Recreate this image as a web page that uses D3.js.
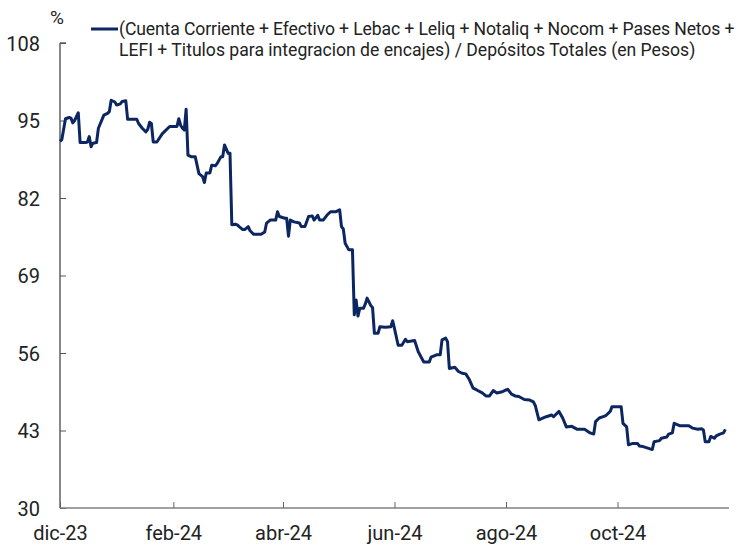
<!DOCTYPE html>
<html><head><meta charset="utf-8">
<script src="https://cdn.jsdelivr.net/npm/d3@7"></script>
<style>body{margin:0;background:#fff}svg{display:block}text{font-family:Roboto,"Noto Sans",sans-serif}</style>
</head><body><svg id="c" width="740" height="546"></svg>
<script>
const dates = ["2023-12-01","2023-12-02","2023-12-04","2023-12-06","2023-12-07","2023-12-08","2023-12-09","2023-12-11","2023-12-12","2023-12-15","2023-12-16","2023-12-17","2023-12-18","2023-12-19","2023-12-21","2023-12-22","2023-12-25","2023-12-27","2023-12-28","2023-12-29","2023-12-31",
"2024-01-01","2024-01-03","2024-01-04","2024-01-06","2024-01-07","2024-01-12","2024-01-13","2024-01-15","2024-01-17","2024-01-18","2024-01-19","2024-01-20","2024-01-21","2024-01-23","2024-01-26","2024-01-27","2024-01-30",
"2024-02-03","2024-02-04","2024-02-05","2024-02-06","2024-02-07","2024-02-08","2024-02-09","2024-02-11","2024-02-13","2024-02-15","2024-02-17","2024-02-18","2024-02-19","2024-02-21","2024-02-22","2024-02-24","2024-02-25","2024-02-27","2024-02-28","2024-02-29",
"2024-03-02","2024-03-03","2024-03-04","2024-03-06","2024-03-07","2024-03-08","2024-03-10","2024-03-11","2024-03-13","2024-03-14","2024-03-16","2024-03-20","2024-03-22","2024-03-23","2024-03-25","2024-03-28","2024-03-29","2024-03-30",
"2024-04-02","2024-04-03","2024-04-04","2024-04-05","2024-04-07","2024-04-10","2024-04-11","2024-04-13","2024-04-15","2024-04-17","2024-04-18","2024-04-20","2024-04-21","2024-04-23","2024-04-25","2024-04-27","2024-04-30",
"2024-05-02","2024-05-03","2024-05-04","2024-05-05","2024-05-07","2024-05-09","2024-05-10","2024-05-11","2024-05-12","2024-05-13","2024-05-15","2024-05-16","2024-05-17","2024-05-18","2024-05-19","2024-05-20","2024-05-21","2024-05-23","2024-05-24","2024-05-27","2024-05-30","2024-05-31",
"2024-06-01","2024-06-03","2024-06-05","2024-06-07","2024-06-08","2024-06-12","2024-06-14","2024-06-17","2024-06-20","2024-06-21","2024-06-24","2024-06-26","2024-06-27","2024-06-29","2024-06-30",
"2024-07-01","2024-07-04","2024-07-06","2024-07-08","2024-07-10","2024-07-12","2024-07-14","2024-07-16","2024-07-19","2024-07-21","2024-07-23","2024-07-25","2024-07-27","2024-07-30",
"2024-08-01","2024-08-02","2024-08-04","2024-08-06","2024-08-08","2024-08-11","2024-08-14","2024-08-16","2024-08-17","2024-08-19","2024-08-22","2024-08-23","2024-08-26","2024-08-27","2024-08-30",
"2024-09-01","2024-09-03","2024-09-06","2024-09-09","2024-09-13","2024-09-16","2024-09-18","2024-09-19","2024-09-21","2024-09-24","2024-09-25","2024-09-27","2024-09-28",
"2024-10-02","2024-10-03","2024-10-04","2024-10-06","2024-10-07","2024-10-09","2024-10-12","2024-10-13","2024-10-15","2024-10-18","2024-10-20","2024-10-21","2024-10-24","2024-10-25","2024-10-28","2024-10-29","2024-10-31",
"2024-11-01","2024-11-04","2024-11-09","2024-11-11","2024-11-14","2024-11-16","2024-11-17","2024-11-18","2024-11-20","2024-11-21","2024-11-23","2024-11-24","2024-11-26","2024-11-28","2024-11-29"];
const values = [91.5,91.8,95.3,95.5,95.4,94.6,95.0,96.3,91.3,91.3,91.4,92.3,90.6,91.2,91.3,93.7,95.9,96.2,96.5,98.4,98.1,
97.6,97.8,98.2,98.3,95.2,95.2,94.5,93.7,93.1,93.5,94.7,94.5,91.4,91.4,92.8,93.1,94.0,
94.0,95.3,94.2,93.7,93.4,96.9,89.2,88.9,88.9,86.1,85.6,84.6,86.2,86.2,87.5,87.4,87.8,88.9,88.9,90.9,
89.5,89.5,77.5,77.6,77.5,77.2,76.7,76.7,77.2,76.5,75.9,75.9,76.3,77.8,78.3,78.3,79.7,78.9,
78.6,78.6,75.6,78.3,78.0,77.8,77.2,77.2,78.9,79.0,78.3,79.1,78.3,78.3,79.1,79.7,79.7,
80.0,77.2,76.8,74.4,73.3,73.3,62.4,64.9,62.2,63.5,63.5,64.2,65.2,64.6,64.0,63.6,59.3,59.3,60.4,60.3,60.4,61.4,
60.1,57.3,57.3,58.3,57.9,58.1,56.2,54.5,54.5,55.3,55.7,55.7,58.2,58.5,57.9,
53.4,53.6,52.9,52.6,52.5,51.5,50.1,49.8,49.3,48.8,48.8,49.7,49.3,49.5,
49.8,49.9,49.1,48.8,48.7,48.2,48.1,47.8,47.2,44.8,45.2,45.3,45.6,45.3,46.2,
45.1,43.6,43.7,43.2,43.2,42.6,42.4,44.5,45.1,45.4,45.6,46.2,47.0,
47.0,47.0,44.2,43.6,40.6,40.8,40.8,40.4,40.3,40.0,39.8,41.1,41.3,41.7,41.9,42.4,42.6,
44.2,43.8,43.8,43.4,43.2,43.3,43.1,41.1,41.1,42.0,41.7,42.1,42.4,42.6,43.2];
const yTicks = [30,43,56,69,82,95,108];
const xTickDates = ["2023-12-01","2024-02-01","2024-04-01","2024-06-01","2024-08-01","2024-10-01"];
const xTickLabels = ["dic-23","feb-24","abr-24","jun-24","ago-24","oct-24"];
const legendLines = ["(Cuenta Corriente + Efectivo + Lebac + Leliq + Notaliq + Nocom + Pases Netos +",
                     "LEFI + Titulos para integracion de encajes) / Depósitos Totales (en Pesos)"];
const unitLabel = "%";

const parse = d3.utcParse("%Y-%m-%d");
const data = dates.map((d,i)=>({date:parse(d), v:values[i]}));
const svg = d3.select("#c");
const x = d3.scaleUtc().domain([parse("2023-12-01"), parse("2024-12-01")]).range([60, 729]);
const y = d3.scaleLinear().domain([30,108]).range([508, 43]);
const navy = "#0c2661";

// y axis
const ya = svg.append("g").attr("transform","translate(60,0)")
  .call(d3.axisRight(y).tickValues(yTicks).tickSize(6).tickFormat(d3.format("d")));
ya.select(".domain").attr("stroke","#111").attr("d","M6,43H0V508");
ya.selectAll(".tick line").attr("stroke","#555");
ya.selectAll(".tick text").attr("x",-20).attr("text-anchor","end").attr("dy","0.35em")
  .attr("font-size",20).attr("fill","#222");

// x axis
const xa = svg.append("g").attr("transform","translate(0,508)")
  .call(d3.axisTop(x).tickValues(xTickDates.map(parse)).tickSize(6)
    .tickFormat((d,i)=>xTickLabels[i]));
xa.select(".domain").attr("stroke","#808080").attr("stroke-width",1.5).attr("d","M60,0H729");
xa.selectAll(".tick line").attr("stroke","#666");
xa.selectAll(".tick text").attr("y",32).attr("dy",0).attr("font-size",20).attr("fill","#222");

// line
svg.append("path").datum(data)
  .attr("fill","none").attr("stroke",navy).attr("stroke-width",3).attr("stroke-linejoin","round")
  .attr("d", d3.line().x(d=>x(d.date)).y(d=>y(d.v)));

// unit
svg.append("text").attr("x",57).attr("y",24).attr("text-anchor","middle").attr("font-size",19).attr("fill","#222").text(unitLabel);

// legend
svg.append("line").attr("x1",91).attr("x2",118).attr("y1",29).attr("y2",29).attr("stroke",navy).attr("stroke-width",3);
const lt = svg.append("g").attr("font-size",17.6).attr("fill","#222");
lt.append("text").attr("x",119).attr("y",35).attr("letter-spacing",-0.12).text(legendLines[0]);
lt.append("text").attr("x",119).attr("y",56).text(legendLines[1]);
</script></body></html>
